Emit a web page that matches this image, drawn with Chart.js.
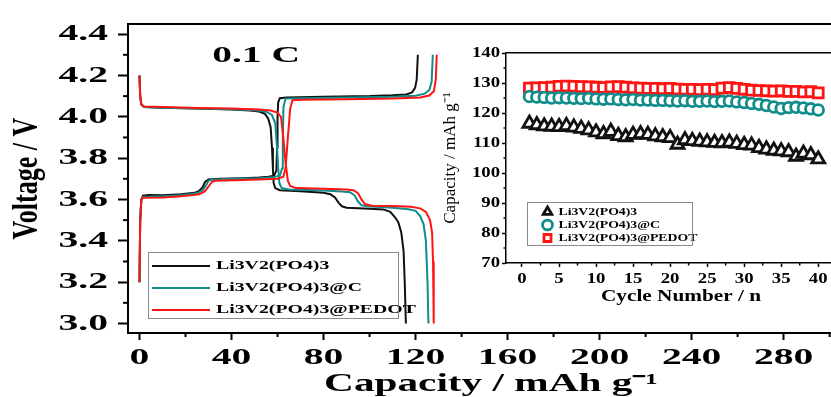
<!DOCTYPE html>
<html>
<head>
<meta charset="utf-8">
<script src="https://cdn.jsdelivr.net/npm/chart.js@4.4.1/dist/chart.umd.min.js"></script>
<style>
html,body{margin:0;padding:0;background:#fff;overflow:hidden;}
#wrap{position:relative;width:831px;height:397px;overflow:hidden;background:#fff;}
#main{position:absolute;left:0;top:0;}
#inset{position:absolute;left:420px;top:30px;}
</style>
</head>
<body>
<div id="wrap">
<canvas id="main" width="870" height="397" style="width:870px;height:397px"></canvas>
<canvas id="inset" width="450" height="290" style="width:450px;height:290px"></canvas>
</div>
<script>
// ---------------- DATA ----------------
const seriesNames = ['Li3V2(PO4)3', 'Li3V2(PO4)3@C', 'Li3V2(PO4)3@PEDOT'];
const rateLabel = '0.1 C';

// charge curves (capacity mAh/g, voltage V)
const blackChargeCap = [0, 0.3, 0.8, 1.5, 4, 10, 18, 24, 26, 27.5, 28.5, 30, 35, 45, 52, 56, 58.5, 59.5, 59.8, 60, 60.3, 61, 64, 80, 100, 110, 116, 118.5, 119.8, 120.5, 121];
const blackChargeV   = [3.20, 3.50, 3.60, 3.618, 3.622, 3.620, 3.625, 3.632, 3.642, 3.660, 3.685, 3.697, 3.700, 3.703, 3.706, 3.710, 3.715, 3.740, 3.850, 4.000, 4.070, 4.090, 4.093, 4.097, 4.100, 4.104, 4.108, 4.118, 4.140, 4.180, 4.300];
const tealChargeCap  = [0, 0.3, 0.8, 1.5, 10, 18, 25, 27.5, 29, 30, 31.5, 40, 52, 58, 61, 62, 62.3, 62.6, 63.5, 70, 90, 110, 120, 124, 126, 127, 127.5];
const tealChargeV    = [3.20, 3.50, 3.60, 3.612, 3.615, 3.620, 3.630, 3.645, 3.670, 3.690, 3.696, 3.700, 3.703, 3.707, 3.715, 3.750, 3.900, 4.050, 4.088, 4.090, 4.093, 4.097, 4.102, 4.112, 4.130, 4.170, 4.300];
const redChargeCap   = [0, 0.3, 0.8, 1.5, 10, 18, 26, 28.5, 30.5, 31.5, 33, 45, 55, 60, 62.5, 63.5, 64.5, 65.5, 66.5, 70, 90, 110, 122, 126, 128, 128.8, 129.2];
const redChargeV     = [3.20, 3.50, 3.60, 3.608, 3.610, 3.615, 3.625, 3.640, 3.670, 3.685, 3.690, 3.694, 3.698, 3.700, 3.710, 3.750, 3.900, 4.040, 4.080, 4.083, 4.085, 4.088, 4.093, 4.103, 4.125, 4.180, 4.300];

// discharge curves
const blackDisCap = [0, 0.3, 0.8, 2, 10, 25, 40, 48, 52, 54.5, 56, 57, 57.6, 58, 58.3, 59, 61, 70, 80, 83, 85, 86.5, 88, 90, 100, 106, 109, 111, 112.5, 113.8, 114.8, 115.3, 115.8];
const blackDisV   = [4.20, 4.10, 4.06, 4.047, 4.044, 4.040, 4.035, 4.030, 4.025, 4.015, 3.990, 3.950, 3.850, 3.750, 3.680, 3.655, 3.645, 3.640, 3.632, 3.625, 3.610, 3.585, 3.567, 3.560, 3.555, 3.552, 3.540, 3.515, 3.490, 3.440, 3.350, 3.200, 3.000];
const tealDisCap  = [0, 0.3, 0.8, 2, 10, 25, 40, 50, 55, 57.5, 59, 59.8, 60.3, 60.8, 61.8, 65, 80, 88, 91.5, 93.5, 95, 96.5, 99, 110, 117, 120, 122, 123.5, 124.5, 125.2, 125.6];
const tealDisV    = [4.20, 4.10, 4.06, 4.047, 4.044, 4.040, 4.036, 4.032, 4.025, 4.010, 3.970, 3.850, 3.750, 3.680, 3.655, 3.648, 3.643, 3.638, 3.635, 3.620, 3.590, 3.572, 3.567, 3.560, 3.553, 3.545, 3.520, 3.480, 3.400, 3.200, 3.000];
const redDisCap   = [0, 0.3, 0.8, 2, 10, 25, 40, 52, 57, 60, 61.5, 62.5, 63.5, 64.5, 65.5, 68, 80, 90, 93, 95, 96.5, 98, 101, 110, 118, 122, 124.5, 126.3, 127.2, 127.6, 127.9];
const redDisV     = [4.20, 4.10, 4.058, 4.050, 4.047, 4.043, 4.040, 4.035, 4.030, 4.020, 4.000, 3.900, 3.780, 3.690, 3.665, 3.655, 3.652, 3.648, 3.645, 3.630, 3.600, 3.578, 3.570, 3.568, 3.565, 3.557, 3.540, 3.500, 3.440, 3.300, 3.000];

// inset: cycling
const cycles = [1,2,3,4,5,6,7,8,9,10,11,12,13,14,15,16,17,18,19,20,21,22,23,24,25,26,27,28,29,30,31,32,33,34,35,36,37,38,39,40];
const capBlack = [116.5,116.0,115.6,115.5,115.4,115.7,115.2,114.8,114.3,113.6,113.0,113.8,112.4,112.0,112.8,113.0,112.8,112.3,112.0,111.7,109.5,111.0,110.7,110.5,110.3,110.1,110.0,110.2,109.8,109.4,109.2,108.4,107.9,107.5,107.3,107.0,105.5,106.5,106.0,104.6];
const capTeal  = [125.5,125.3,125.2,125.0,125.1,125.0,124.9,124.8,124.9,124.7,124.6,124.7,124.5,124.4,124.5,124.3,124.3,124.2,124.2,124.1,124.0,124.1,123.9,123.9,124.0,123.8,123.9,124.0,123.7,123.5,123.2,122.9,122.5,122.0,121.5,121.8,121.9,121.7,121.4,121.0];
const capRed   = [128.3,128.4,128.5,128.6,128.9,129.0,128.9,128.8,128.7,128.6,128.5,128.7,128.8,128.6,128.4,128.3,128.2,128.2,128.1,128.2,128.0,127.9,127.9,127.8,127.9,127.8,128.3,128.5,128.2,127.9,127.6,127.5,127.4,127.3,127.4,127.2,127.2,127.0,127.1,126.7];

// ---------------- HELPERS ----------------
const FONT = "'Liberation Serif', 'Times New Roman', Times, serif";
const C_BLACK = '#111111', C_TEAL = '#108c8a', C_RED = '#ff1414';
Chart.defaults.font.family = FONT;
Chart.defaults.color = '#000';

function pts(xs, ys) { return xs.map((x, i) => ({ x: x, y: ys[i] })); }

// the reference figure is horizontally stretched: stretch the text the same way
function stretchText(ctx, sx, sr) {
  const nativeFill = ctx.fillText;
  const nativeMeasure = ctx.measureText;
  ctx.fillText = function (text, x, y, maxWidth) {
    const m = this.getTransform();
    const rotated = Math.abs(m.b) > Math.abs(m.a);
    this.save();
    this.translate(x, y);
    if (rotated) this.scale(1, sr); else this.scale(sx, 1);
    if (maxWidth === undefined || maxWidth === null) nativeFill.call(this, text, 0, 0);
    else nativeFill.call(this, text, 0, 0, rotated ? maxWidth : maxWidth / sx);
    this.restore();
  };
  ctx.measureText = function (text) {
    const r = nativeMeasure.call(this, text);
    return {
      width: r.width * sx,
      actualBoundingBoxAscent: r.actualBoundingBoxAscent,
      actualBoundingBoxDescent: r.actualBoundingBoxDescent,
      actualBoundingBoxLeft: r.actualBoundingBoxLeft * sx,
      actualBoundingBoxRight: r.actualBoundingBoxRight * sx,
      fontBoundingBoxAscent: r.fontBoundingBoxAscent,
      fontBoundingBoxDescent: r.fontBoundingBoxDescent
    };
  };
}

const minorTicks = {
  id: 'minorTicks',
  afterDraw(chart, args, opts) {
    const ctx = chart.ctx;
    ctx.save();
    ctx.strokeStyle = opts.color || '#000';
    ctx.lineWidth = opts.width || 1;
    (opts.list || []).forEach(t => {
      const s = chart.scales[t.axis];
      for (let k = 0; ; k++) {
        const v = t.from + k * t.step;
        if (v > t.to + 1e-9) break;
        const p = s.getPixelForValue(v);
        ctx.beginPath();
        if (s.isHorizontal()) { ctx.moveTo(p, s.top); ctx.lineTo(p, s.top + t.len); }
        else { ctx.moveTo(s.right, p); ctx.lineTo(s.right - t.len, p); }
        ctx.stroke();
      }
    });
    ctx.restore();
  }
};

const legendPlace = {
  id: 'legendPlace',
  afterLayout(chart, args, opts) {
    const lg = chart.legend;
    if (!lg || opts.x === undefined) return;
    lg.left = opts.x; lg.top = opts.y;
    lg.right = opts.x + lg.width + 60; lg.bottom = opts.y + 200;
  },
  afterDraw(chart, args, opts) {
    if (!opts.frame) return;
    const ctx = chart.ctx, f = opts.frame;
    ctx.save();
    ctx.strokeStyle = opts.frameColor || '#888';
    ctx.lineWidth = 1;
    ctx.strokeRect(f[0] + 0.5, f[1] + 0.5, f[2], f[3]);
    ctx.restore();
  }
};

const textLabel = {
  id: 'textLabel',
  afterDraw(chart, args, opts) {
    if (!opts.text) return;
    const ctx = chart.ctx;
    ctx.save();
    ctx.font = opts.font;
    ctx.fillStyle = '#000';
    ctx.textAlign = 'center';
    ctx.textBaseline = 'middle';
    ctx.fillText(opts.text, chart.scales.x.getPixelForValue(opts.x), chart.scales.y.getPixelForValue(opts.y));
    ctx.restore();
  }
};

// ---------------- MAIN CHART ----------------
const mainCtx = document.getElementById('main').getContext('2d');
stretchText(mainCtx, 1.65, 1.4);

function lineDs(label, xs, ys, color, order) {
  return { label: label, data: pts(xs, ys), borderColor: color, backgroundColor: color,
           borderWidth: 2, pointRadius: 0, showLine: true, tension: 0, order: order };
}

new Chart(mainCtx, {
  type: 'scatter',
  data: {
    datasets: [
      lineDs(seriesNames[0], blackChargeCap, blackChargeV, C_BLACK, 2),
      lineDs(seriesNames[1], tealChargeCap, tealChargeV, C_TEAL, 1),
      lineDs(seriesNames[2], redChargeCap, redChargeV, C_RED, 0),
      lineDs(seriesNames[0] + ' discharge', blackDisCap, blackDisV, C_BLACK, 2),
      lineDs(seriesNames[1] + ' discharge', tealDisCap, tealDisV, C_TEAL, 1),
      lineDs(seriesNames[2] + ' discharge', redDisCap, redDisV, C_RED, 0)
    ]
  },
  options: {
    responsive: false, animation: false, devicePixelRatio: 1, events: [],
    layout: { padding: { left: 0, right: 16, top: 0, bottom: 0 } },
    plugins: {
      tooltip: { enabled: false },
      legend: {
        position: 'chartArea', align: 'start',
        labels: {
          usePointStyle: true, pointStyle: 'line', pointStyleWidth: 58, boxHeight: 12,
          padding: 10, color: '#000', font: { size: 12, weight: 'bold' },
          filter: (item) => item.datasetIndex < 3,
          sort: (a, b) => a.datasetIndex - b.datasetIndex
        }
      },
      legendPlace: { x: 142, y: 250, frame: [148, 252, 250, 66], frameColor: '#8a8a8a' },
      textLabel: { text: rateLabel, x: 50.7, y: 4.297, font: "bold 24px " + FONT },
      minorTicks: {
        width: 2, color: '#000',
        list: [
          { axis: 'x', from: 20, step: 40, to: 300, len: 4 },
          { axis: 'y', from: 3.1, step: 0.2, to: 4.3, len: 5 }
        ]
      }
    },
    scales: {
      x: {
        type: 'linear', position: 'bottom', min: -5, max: 310.6,
        afterFit: (s) => { s.height = 64; },
        ticks: { stepSize: 40, includeBounds: false, autoSkip: false, maxRotation: 0, padding: 3,
                 font: { size: 24, weight: 'bold' }, color: '#000', callback: (v) => String(v) },
        grid: { display: true, drawOnChartArea: false, drawTicks: true, tickLength: 7, tickWidth: 2, tickColor: '#000' },
        border: { display: true, color: '#000', width: 2 },
        title: { display: true, text: 'Capacity / mAh g⁻¹', color: '#000',
                 font: { size: 25, weight: 'bold', lineHeight: 1 }, padding: { top: 0, bottom: 0 } }
      },
      x2: {
        type: 'linear', position: 'top', min: -5, max: 310.6,
        afterFit: (s) => { s.height = 15; },
        ticks: { display: false },
        grid: { display: true, drawOnChartArea: false, drawTicks: false },
        border: { display: true, color: '#000', width: 2 }
      },
      y: {
        type: 'linear', position: 'left', min: 2.954, max: 4.447,
        afterFit: (s) => { s.width = 128; },
        ticks: { stepSize: 0.2, includeBounds: false, autoSkip: false, padding: 10,
                 font: { size: 24, weight: 'bold' }, color: '#000', callback: (v) => Number(v).toFixed(1) },
        grid: { display: true, drawOnChartArea: false, drawTicks: true, tickLength: 10, tickWidth: 2, tickColor: '#000' },
        border: { display: true, color: '#000', width: 2 },
        title: { display: true, text: 'Voltage / V', color: '#000',
                 font: { size: 26, weight: 'bold', lineHeight: 1 }, padding: { top: 15, bottom: 0 } }
      }
    }
  },
  plugins: [minorTicks, legendPlace, textLabel]
});

// ---------------- INSET CHART ----------------
const insetCtx = document.getElementById('inset').getContext('2d');
stretchText(insetCtx, 1.25, 1.0);

function markerDs(label, ys, style, radius, color) {
  return { label: label, data: pts(cycles, ys), pointStyle: style, pointRadius: radius,
           borderColor: color, backgroundColor: '#ffffff', borderWidth: 2.8, showLine: false };
}

new Chart(insetCtx, {
  type: 'scatter',
  data: {
    datasets: [
      markerDs(seriesNames[0], capBlack, 'triangle', 7.5, C_BLACK),
      markerDs(seriesNames[1], capTeal, 'circle', 5.3, C_TEAL),
      markerDs(seriesNames[2], capRed, 'rect', 7, C_RED)
    ]
  },
  options: {
    responsive: false, animation: false, devicePixelRatio: 1, events: [],
    layout: { padding: { left: 0, right: 14, top: 0, bottom: 0 } },
    plugins: {
      tooltip: { enabled: false },
      legend: {
        position: 'chartArea', align: 'start',
        labels: { usePointStyle: true, boxHeight: 7, padding: 2, color: '#000',
                  font: { size: 11, weight: 'bold' } }
      },
      legendPlace: { x: 120, y: 174.5, frame: [107, 172, 165, 43], frameColor: '#8a8a8a' },
      minorTicks: {
        width: 1.5, color: '#000',
        list: [
          { axis: 'x', from: 2.5, step: 5, to: 42.5, len: 2.5 },
          { axis: 'y', from: 75, step: 10, to: 135, len: 2.5 }
        ]
      }
    },
    scales: {
      x: {
        type: 'linear', position: 'bottom', min: -2.16, max: 45.1,
        afterFit: (s) => { s.height = 57; },
        ticks: { stepSize: 5, includeBounds: false, autoSkip: false, maxRotation: 0, padding: 3,
                 font: { size: 15, weight: 'bold' }, color: '#000', callback: (v) => String(v) },
        grid: { display: true, drawOnChartArea: false, drawTicks: true, tickLength: 4, tickWidth: 1.5, tickColor: '#000' },
        border: { display: true, color: '#000', width: 1.5 },
        title: { display: true, text: 'Cycle Number / n', color: '#000',
                 font: { size: 17, weight: 'bold', lineHeight: 1 }, padding: { top: 0, bottom: 14.5 } }
      },
      x2: {
        type: 'linear', position: 'top', min: -2.16, max: 45.1,
        afterFit: (s) => { s.height = 23; },
        ticks: { display: false },
        grid: { display: true, drawOnChartArea: false, drawTicks: false },
        border: { display: true, color: '#000', width: 1.5 }
      },
      y: {
        type: 'linear', position: 'left', min: 70, max: 140,
        afterFit: (s) => { s.width = 86; },
        ticks: { stepSize: 10, autoSkip: false, padding: 2,
                 font: { size: 15, weight: 'bold' }, color: '#000', callback: (v) => String(v) },
        grid: { display: true, drawOnChartArea: false, drawTicks: true, tickLength: 4, tickWidth: 1.5, tickColor: '#000' },
        border: { display: true, color: '#000', width: 1.5 },
        title: { display: true, text: 'Capacity / mAh g⁻¹', color: '#000',
                 font: { size: 17, weight: 'normal', lineHeight: 1 }, padding: { top: 22, bottom: 0 } }
      }
    }
  },
  plugins: [minorTicks, legendPlace]
});
</script>
</body>
</html>
